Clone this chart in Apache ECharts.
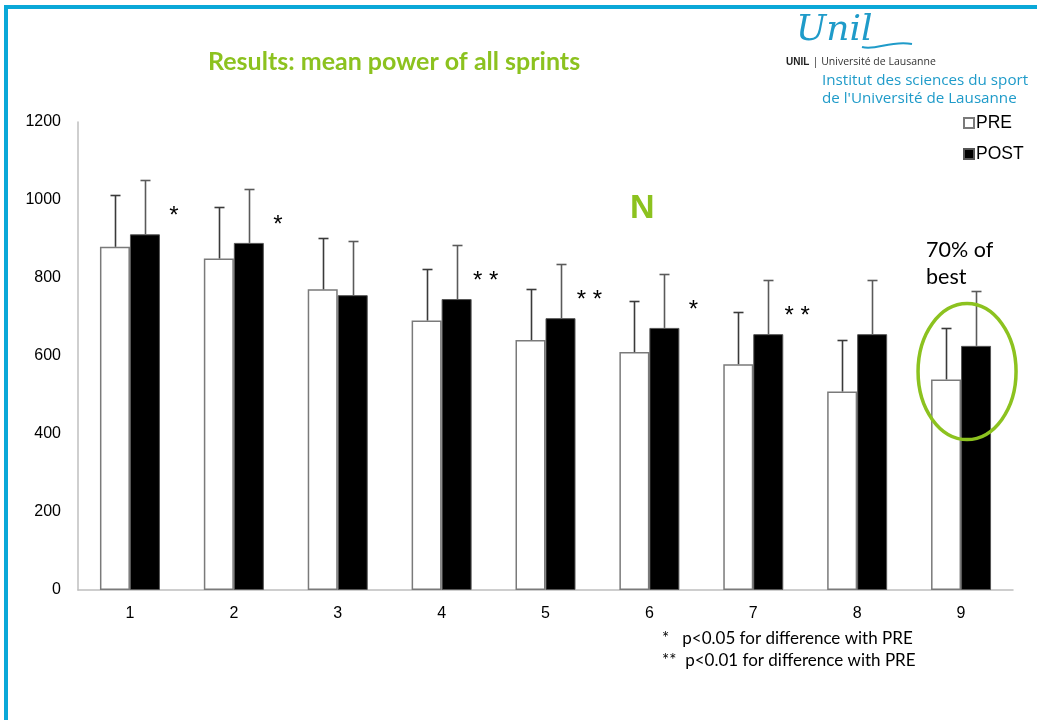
<!DOCTYPE html>
<html>
<head>
<meta charset="utf-8">
<script src="https://cdn.jsdelivr.net/npm/echarts@6/dist/echarts.min.js"></script>
<style>
  html, body { margin: 0; padding: 0; background: #ffffff; }
  #chart { width: 1037px; height: 720px; }
</style>
</head>
<body>
<div id="chart"></div>
<script>
// Sprint number (category axis)
const sprints = ['1', '2', '3', '4', '5', '6', '7', '8', '9'];
// Mean power (W) and standard deviation, before training
const preMean = [880, 850, 771, 691, 641, 610, 579, 509, 540];
const preSd   = [132, 131, 132, 132, 131, 131, 134, 132, 131];
// Mean power (W) and standard deviation, after training
const postMean = [912, 890, 756, 746, 697, 672, 656, 656, 626];
const postSd   = [139, 138, 140, 139, 139, 138, 139, 139, 141];
// Significance marks for POST vs PRE
const significance = ['*', '*', '', '**', '**', '*', '**', '', ''];
// Value axis ticks
const yMin = 0, yMax = 1200, yStep = 200;

const GREEN = '#8cc21f';
const BLUE = '#0aa8d8';
const LOGO_BLUE = '#1f9bc9';
const BAR_W = 30;

const chart = echarts.init(document.getElementById('chart'), null, { renderer: 'canvas' });

function errorBars(name, means, sds, side, color) {
  return {
    type: 'custom',
    name: name + ' SD',
    silent: true,
    z: 4,
    encode: { x: 0, y: [1, 2] },
    data: means.map((m, i) => [i, m, m + sds[i]]),
    renderItem(params, api) {
      const i = api.value(0);
      const base = api.coord([i, api.value(1)]);
      const top = api.coord([i, api.value(2)]);
      const x = Math.round(base[0] + side * BAR_W / 2) + 0.5;
      const ty = Math.round(top[1]) + 0.5;
      return {
        type: 'group',
        children: [
          { type: 'line', shape: { x1: x, y1: base[1], x2: x, y2: ty }, style: { stroke: color, lineWidth: 1.6 } },
          { type: 'line', shape: { x1: x - 5, y1: ty, x2: x + 5, y2: ty }, style: { stroke: color, lineWidth: 1.6 } }
        ]
      };
    }
  };
}

const option = {
  animation: false,
  backgroundColor: '#ffffff',
  grid: { left: 78, right: 24, top: 122, bottom: 130, containLabel: false },
  legend: {
    data: ['PRE', 'POST'],
    orient: 'vertical',
    left: 963,
    top: 114,
    padding: 0,
    itemWidth: 10,
    itemHeight: 10,
    itemGap: 13,
    icon: 'rect',
    textStyle: { fontFamily: 'Liberation Sans', fontSize: 17.5, color: '#000', padding: [2, 0, 0, -3] }
  },
  xAxis: {
    type: 'category',
    data: sprints,
    axisLine: { show: true, lineStyle: { color: '#bfbfbf', width: 1.5 } },
    axisTick: { show: false },
    axisLabel: { fontFamily: 'Liberation Sans', fontSize: 16, color: '#000', margin: 16 },
    splitLine: { show: false }
  },
  yAxis: {
    type: 'value',
    min: yMin,
    max: yMax,
    interval: yStep,
    axisLine: { show: true, lineStyle: { color: '#bfbfbf', width: 1.5 } },
    axisTick: { show: false },
    axisLabel: { fontFamily: 'Liberation Sans', fontSize: 16, color: '#000', margin: 17, formatter: v => String(v) },
    splitLine: { show: false }
  },
  series: [
    {
      name: 'PRE',
      type: 'bar',
      data: preMean,
      barWidth: BAR_W,
      barGap: '0%',
      itemStyle: { color: '#ffffff', borderColor: '#7a7a7a', borderWidth: 1.5 },
      z: 2
    },
    {
      name: 'POST',
      type: 'bar',
      data: postMean,
      barWidth: BAR_W,
      barGap: '0%',
      itemStyle: { color: '#000000', borderColor: '#555555', borderWidth: 1 },
      z: 3
    },
    errorBars('PRE', preMean, preSd, -1, '#3a3a3a'),
    errorBars('POST', postMean, postSd, 1, '#5a5a5a'),
    {
      // significance stars right of each POST bar
      type: 'custom',
      name: 'sig',
      silent: true,
      z: 5,
      encode: { x: 0, y: 1 },
      data: postMean.map((m, i) => [i, m + postSd[i] - 78, significance[i]]),
      renderItem(params, api) {
        const i = api.value(0);
        const p = api.coord([i, api.value(1)]);
        const txt = significance[i];
        if (!txt) return null;
        return {
          type: 'text',
          x: p[0] + 44,
          y: p[1] + 6,
          style: { text: txt.split('').join(' '), fontFamily: 'Liberation Sans', fontSize: 24, fill: '#000', align: 'center', verticalAlign: 'middle' }
        };
      }
    },
    {
      // ring around the last sprint pair
      type: 'custom',
      name: 'ring',
      silent: true,
      z: 6,
      encode: { x: 0, y: 1 },
      data: [[8, 560]],
      renderItem(params, api) {
        const p = api.coord([api.value(0), api.value(1)]);
        return {
          type: 'group',
          children: [
            { type: 'ellipse', shape: { cx: p[0] + 6, cy: p[1], rx: 49, ry: 68 }, style: { fill: 'none', stroke: GREEN, lineWidth: 3.5 } }
          ]
        };
      }
    }
  ],
  graphic: [
    // frame
    { type: 'rect', left: 4, top: 5, shape: { width: 1033, height: 4 }, style: { fill: BLUE }, silent: true },
    { type: 'rect', left: 4, top: 5, shape: { width: 4, height: 715 }, style: { fill: BLUE }, silent: true },
    // title
    {
      type: 'text', left: 208, top: 49,
      style: { text: 'Results: mean power of all sprints', fontFamily: 'Lato', fontWeight: 'bold', fontSize: 25, fill: GREEN }
    },
    // logo
    {
      type: 'text', left: 796, top: 13,
      style: { text: 'Unil', fontFamily: 'DejaVu Serif', fontStyle: 'italic', fontSize: 36, fill: LOGO_BLUE }
    },
    {
      type: 'bezierCurve',
      shape: { x1: 862, y1: 47, cpx1: 876, cpy1: 51, cpx2: 890, cpy2: 40, x2: 912, y2: 44 },
      style: { stroke: LOGO_BLUE, lineWidth: 2, fill: 'none' }
    },
    {
      type: 'text', left: 786, top: 56,
      style: {
        text: '{b|UNIL} {n|| Université de Lausanne}',
        rich: {
          b: { fontFamily: 'Liberation Sans', fontWeight: 'bold', fontSize: 10, fill: '#222' },
          n: { fontFamily: 'Open Sans', fontSize: 10.5, fill: '#333' }
        }
      }
    },
    {
      type: 'text', left: 822, top: 73,
      style: { text: 'Institut des sciences du sport', fontFamily: 'Open Sans', fontSize: 15.2, fill: LOGO_BLUE }
    },
    {
      type: 'text', left: 822, top: 91,
      style: { text: "de l'Université de Lausanne", fontFamily: 'Open Sans', fontSize: 15.2, fill: LOGO_BLUE }
    },
    // group label
    {
      type: 'text', left: 630, top: 192,
      style: { text: 'N', fontFamily: 'Liberation Sans', fontWeight: 'bold', fontSize: 34, fill: GREEN }
    },
    // annotation
    {
      type: 'text', left: 926, top: 237,
      style: { text: '70% of\nbest', fontFamily: 'Lato', fontSize: 21.5, lineHeight: 27, fill: '#000' }
    },
    // footnotes
    {
      type: 'text', left: 662, top: 630,
      style: { text: '*   p<0.05 for difference with PRE', fontFamily: 'Lato', fontSize: 17, fill: '#000' }
    },
    {
      type: 'text', left: 662, top: 652,
      style: { text: '**  p<0.01 for difference with PRE', fontFamily: 'Lato', fontSize: 17, fill: '#000' }
    }
  ]
};

chart.setOption(option);
</script>
</body>
</html>
